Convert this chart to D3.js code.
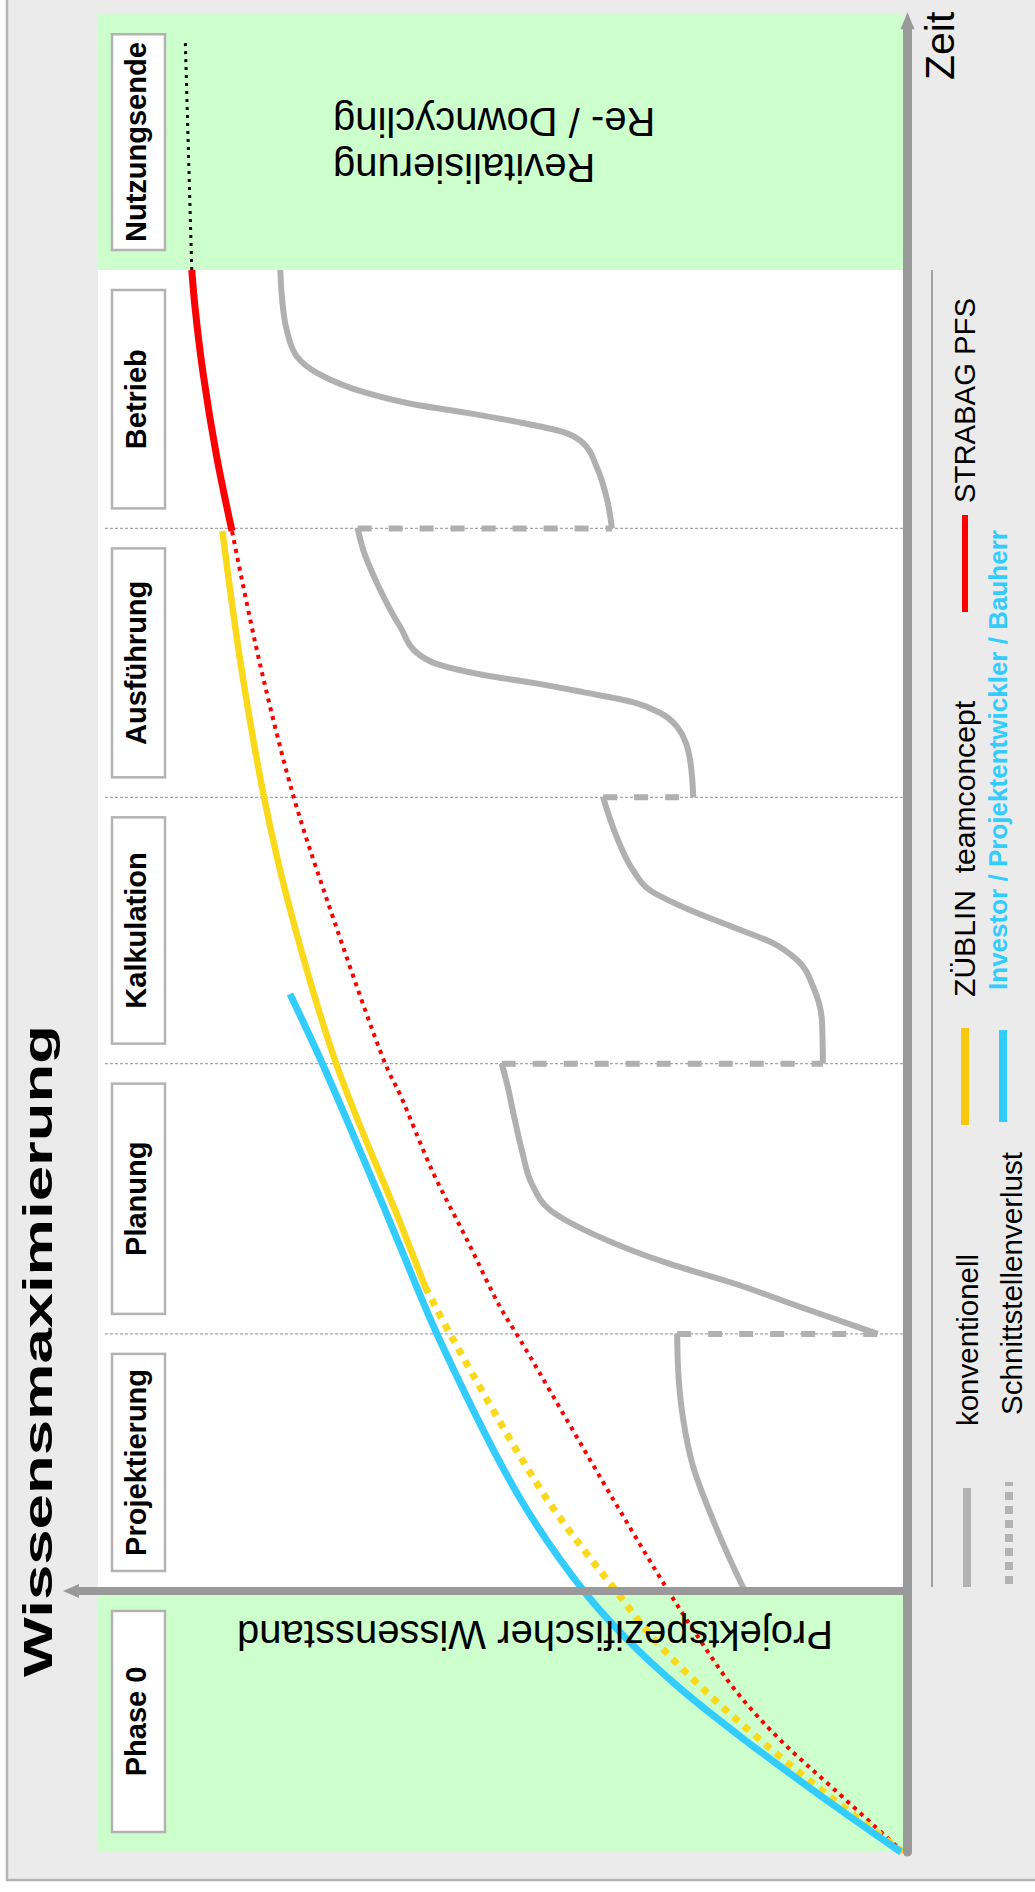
<!DOCTYPE html>
<html><head><meta charset="utf-8">
<script src="https://cdn.jsdelivr.net/npm/d3@7"></script>
<style>
html,body{margin:0;padding:0;background:#fff;}
svg{display:block;font-family:"Liberation Sans",Arial,Helvetica,sans-serif;}
</style>
</head><body>
<svg id="c" width="1035" height="1892"></svg>
<script>
// ---------- data (time in phase units, knowledge 0..100) ----------
const phases = ["Phase 0","Projektierung","Planung","Kalkulation","Ausführung","Betrieb","Nutzungsende"];
const phaseBounds = [0, 0.99, 1.965, 2.99, 4.0, 5.02, 6.0, 6.97];

const convProjektierung = [[0.99,19.9],[1.107,21.7],[1.286,24.2],[1.46,26.3],[1.65,27.6],[1.839,28.2],[1.965,28.3]];
const convPlanung = [[1.965,3.4],[2.067,13.0],[2.158,21.4],[2.234,29.6],[2.332,37.9],[2.435,44.1],[2.53,46.3],[2.662,47.6],[2.795,48.6],[2.909,49.4],[2.99,50.1]];
const convKalkulation = [[2.99,10.2],[3.144,10.3],[3.281,11.4],[3.383,13.4],[3.447,16.4],[3.508,21.4],[3.584,27.6],[3.648,31.7],[3.724,33.8],[3.849,35.8],[4.0,37.5]];
const convAusfuehrung = [[4.0,26.3],[4.142,26.7],[4.267,28.3],[4.32,30.4],[4.361,33.8],[4.399,40.0],[4.434,46.2],[4.464,52.4],[4.502,57.8],[4.54,60.3],[4.646,62.7],[4.813,65.6],[4.938,67.3],[5.02,68.0]];
const convBetrieb = [[5.02,36.4],[5.128,37.0],[5.253,38.3],[5.344,40.0],[5.386,42.5],[5.424,48.2],[5.458,54.4],[5.488,60.6],[5.533,66.8],[5.609,73.0],[5.67,75.5],[5.772,76.8],[5.897,77.4],[6.0,77.6]];
const conventional = [convProjektierung, convPlanung, convKalkulation, convAusfuehrung, convBetrieb];

const investor = [[0,0.5],[0.216,10.6],[0.425,19.9],[0.622,28.0],[0.815,34.8],[0.99,39.9],[1.335,47.7],[1.942,57.8],[2.295,62.7],[2.45,64.8],[2.985,72.3],[3.254,76.4]];
const zueblinLoss = [[0,0.25],[0.216,9.6],[0.425,18.0],[0.622,25.2],[0.815,31.4],[0.99,35.9],[1.335,44.4],[1.953,56.3],[2.143,59.6]];
const zueblin = [[2.143,59.6],[2.386,62.7],[2.985,70.6],[3.611,76.7],[3.997,79.6],[4.502,82.5],[5.01,84.8]];
const strabagLoss = [[0,0.25],[0.235,8.7],[0.425,15.5],[0.614,21.1],[0.815,25.7],[0.99,29.4],[1.335,36.2],[1.942,47.8],[2.067,50.3],[2.321,54.4],[2.575,58.6],[2.871,62.7],[2.985,64.5],[3.611,71.8],[3.997,75.9],[4.502,80.1],[5.01,83.6]];
const strabag = [[5.01,83.6],[5.291,85.5],[5.609,87.2],[5.86,88.2],[6.0,88.6]];
const endOfUse = [[6.0,88.6],[6.865,89.4]];

const titleText = "Wissensmaximierung";
const xAxisLabel = "Zeit";
const yAxisLabel = "Projektspezifischer Wissensstand";
const endLabel = ["Revitalisierung","Re- / Downcycling"];
const legendItems = [
  {label:"STRABAG PFS", color:"#ff0000"},
  {label:"ZÜBLIN  teamconcept", color:"#f9c80e"},
  {label:"Investor / Projektentwickler / Bauherr", color:"#33ccff"},
  {label:"konventionell", color:"#b3b3b3"},
  {label:"Schnittstellenverlust", color:"#b3b3b3"}
];

// ---------- drawing ----------
const svg = d3.select("#c");
const tScale = d3.scaleLinear().domain([0,6]).range([1852,270]);   // time -> screen y (upwards)
const kScale = d3.scaleLinear().domain([0,100]).range([905,100]);  // knowledge -> screen x (leftwards)
const line = d3.line().x(d=>kScale(d[1])).y(d=>tScale(d[0])).curve(d3.curveCatmullRom.alpha(0.5));
const grayLine = d3.line().x(d=>kScale(d[1])).y(d=>tScale(d[0])).curve(d3.curveMonotoneY);
const straight = d3.line().x(d=>kScale(d[1])).y(d=>tScale(d[0]));

// frame
svg.append("rect").attr("x",7).attr("y",-10).attr("width",1040).attr("height",1890)
  .attr("fill","#ebebeb").attr("stroke","#b4b4b4").attr("stroke-width",2.5);

// green areas (Phase 0 and Nutzungsende), white plot
const gxl = kScale(100)-2, gxr = kScale(0)-2;
[[phaseBounds[0],phaseBounds[1]],[phaseBounds[6],phaseBounds[7]]].forEach(([a,b])=>{
  svg.append("rect").attr("x",gxl).attr("width",gxr-gxl)
    .attr("y",tScale(b)).attr("height",tScale(a)-tScale(b)).attr("fill","#ccffcc");
});
svg.append("rect").attr("x",gxl).attr("width",gxr-gxl)
  .attr("y",tScale(phaseBounds[6])).attr("height",tScale(phaseBounds[1])-tScale(phaseBounds[6])).attr("fill","#ffffff");

// phase separators
phaseBounds.slice(2,6).forEach(b=>{
  svg.append("line").attr("x1",105).attr("x2",kScale(0)+4).attr("y1",tScale(b)).attr("y2",tScale(b))
    .attr("stroke","#a8a8a8").attr("stroke-width",1.3).attr("stroke-dasharray","3,2");
});

// phase boxes
phases.forEach((p,i)=>{
  const y0 = tScale(phaseBounds[i+1])+20, y1 = tScale(phaseBounds[i])-20;
  svg.append("rect").attr("x",112).attr("y",y0).attr("width",53).attr("height",y1-y0)
    .attr("fill","#fff").attr("stroke","#b3b3b3").attr("stroke-width",2.5);
  svg.append("text").attr("transform",`translate(146,${(y0+y1)/2}) rotate(-90)`)
    .attr("text-anchor","middle").attr("font-weight","bold").attr("font-size",29).attr("fill","#000").text(p);
});

// conventional curves + interface losses
conventional.forEach(seg=>{
  svg.append("path").attr("d",grayLine(seg)).attr("fill","none").attr("stroke","#b0b0b0")
    .attr("stroke-width",6).attr("stroke-linecap","butt");
});
for(let i=0;i<conventional.length-1;i++){
  const a = conventional[i][conventional[i].length-1], b = conventional[i+1][0];
  svg.append("path").attr("d",straight([a,[a[0],b[1]]])).attr("fill","none").attr("stroke","#b0b0b0")
    .attr("stroke-width",6).attr("stroke-dasharray","14,17");
}

// coloured curves
svg.append("path").attr("d",line(strabagLoss)).attr("fill","none").attr("stroke","#ff0000")
  .attr("stroke-width",4).attr("stroke-dasharray","4,5");
svg.append("path").attr("d",line(zueblinLoss)).attr("fill","none").attr("stroke","#f9d91a")
  .attr("stroke-width",7).attr("stroke-dasharray","7,7");
svg.append("path").attr("d",line(investor)).attr("fill","none").attr("stroke","#33ccff")
  .attr("stroke-width",7);
svg.append("path").attr("d",line(zueblin)).attr("fill","none").attr("stroke","#f9d91a")
  .attr("stroke-width",6.5);
svg.append("path").attr("d",line(strabag)).attr("fill","none").attr("stroke","#ff0000")
  .attr("stroke-width",7);
svg.append("path").attr("d",straight(endOfUse)).attr("fill","none").attr("stroke","#000")
  .attr("stroke-width",3).attr("stroke-dasharray","3,5");

// axes
const ax = kScale(0)+2.5;
svg.append("line").attr("x1",ax).attr("x2",ax).attr("y1",tScale(0)).attr("y2",tScale(6.97)+14)
  .attr("stroke","#999").attr("stroke-width",9).attr("stroke-linecap","round");
svg.append("path").attr("d",`M${ax},${tScale(6.97)-2} L${ax-7},${tScale(6.97)+15} L${ax+7},${tScale(6.97)+15}Z`).attr("fill","#999");
const ay = tScale(phaseBounds[1]);
const arrowK = 104.6;
svg.append("line").attr("x1",ax).attr("x2",kScale(arrowK)+15).attr("y1",ay).attr("y2",ay)
  .attr("stroke","#999").attr("stroke-width",8);
svg.append("path").attr("d",`M${kScale(arrowK)},${ay} L${kScale(arrowK)+16},${ay-7} L${kScale(arrowK)+16},${ay+7}Z`).attr("fill","#999");

// axis labels and texts
svg.append("text").attr("transform","translate(954,80) rotate(-90)").attr("font-size",41).attr("fill","#000").text(xAxisLabel);
svg.append("text").attr("transform",`translate(535,${ay+30}) rotate(180)`).attr("text-anchor","middle")
  .attr("font-size",40).attr("fill","#000").text(yAxisLabel);
svg.append("text").attr("transform","translate(333,154) rotate(180)").attr("text-anchor","end")
  .attr("font-size",40).attr("fill","#000").text(endLabel[0]);
svg.append("text").attr("transform","translate(333,108) rotate(180)").attr("text-anchor","end")
  .attr("font-size",40).attr("fill","#000").text(endLabel[1]);
svg.append("text").attr("transform","translate(52,1351) rotate(-90)").attr("text-anchor","middle")
  .attr("font-size",40).attr("font-weight","bold").attr("fill","#000")
  .attr("textLength",652).attr("lengthAdjust","spacingAndGlyphs").text(titleText);

// legend
svg.append("line").attr("x1",932).attr("x2",932).attr("y1",270).attr("y2",1587).attr("stroke","#a0a0a0").attr("stroke-width",2);
const lt = (txt,x,y,len,opts={})=>{
  return svg.append("text").attr("transform",`translate(${x},${y}) rotate(-90)`)
    .attr("font-size",opts.size||30).attr("fill",opts.color||"#000")
    .attr("font-weight",opts.bold?"bold":"normal").style("white-space","pre")
    .attr("textLength",len).attr("lengthAdjust","spacingAndGlyphs").text(txt);
};
const vl = (x,y1,y2,color,w,dash)=>{
  const l = svg.append("line").attr("x1",x).attr("x2",x).attr("y1",y1).attr("y2",y2)
    .attr("stroke",color).attr("stroke-width",w);
  if(dash) l.attr("stroke-dasharray",dash);
};
vl(965,612,515,legendItems[0].color,6);
lt(legendItems[0].label,975,503,205);
vl(965,1125,1028,legendItems[1].color,8);
lt(legendItems[1].label,975,997,296);
vl(1003,1122,1030,legendItems[2].color,8);
lt(legendItems[2].label,1007,990,460,{bold:true,size:26,color:legendItems[2].color});
vl(967,1587,1488,legendItems[3].color,8);
lt(legendItems[3].label,978,1426,172);
vl(1009,1584,1482,legendItems[4].color,8,"8,6");
lt(legendItems[4].label,1022,1415,263);
</script>
</body></html>
